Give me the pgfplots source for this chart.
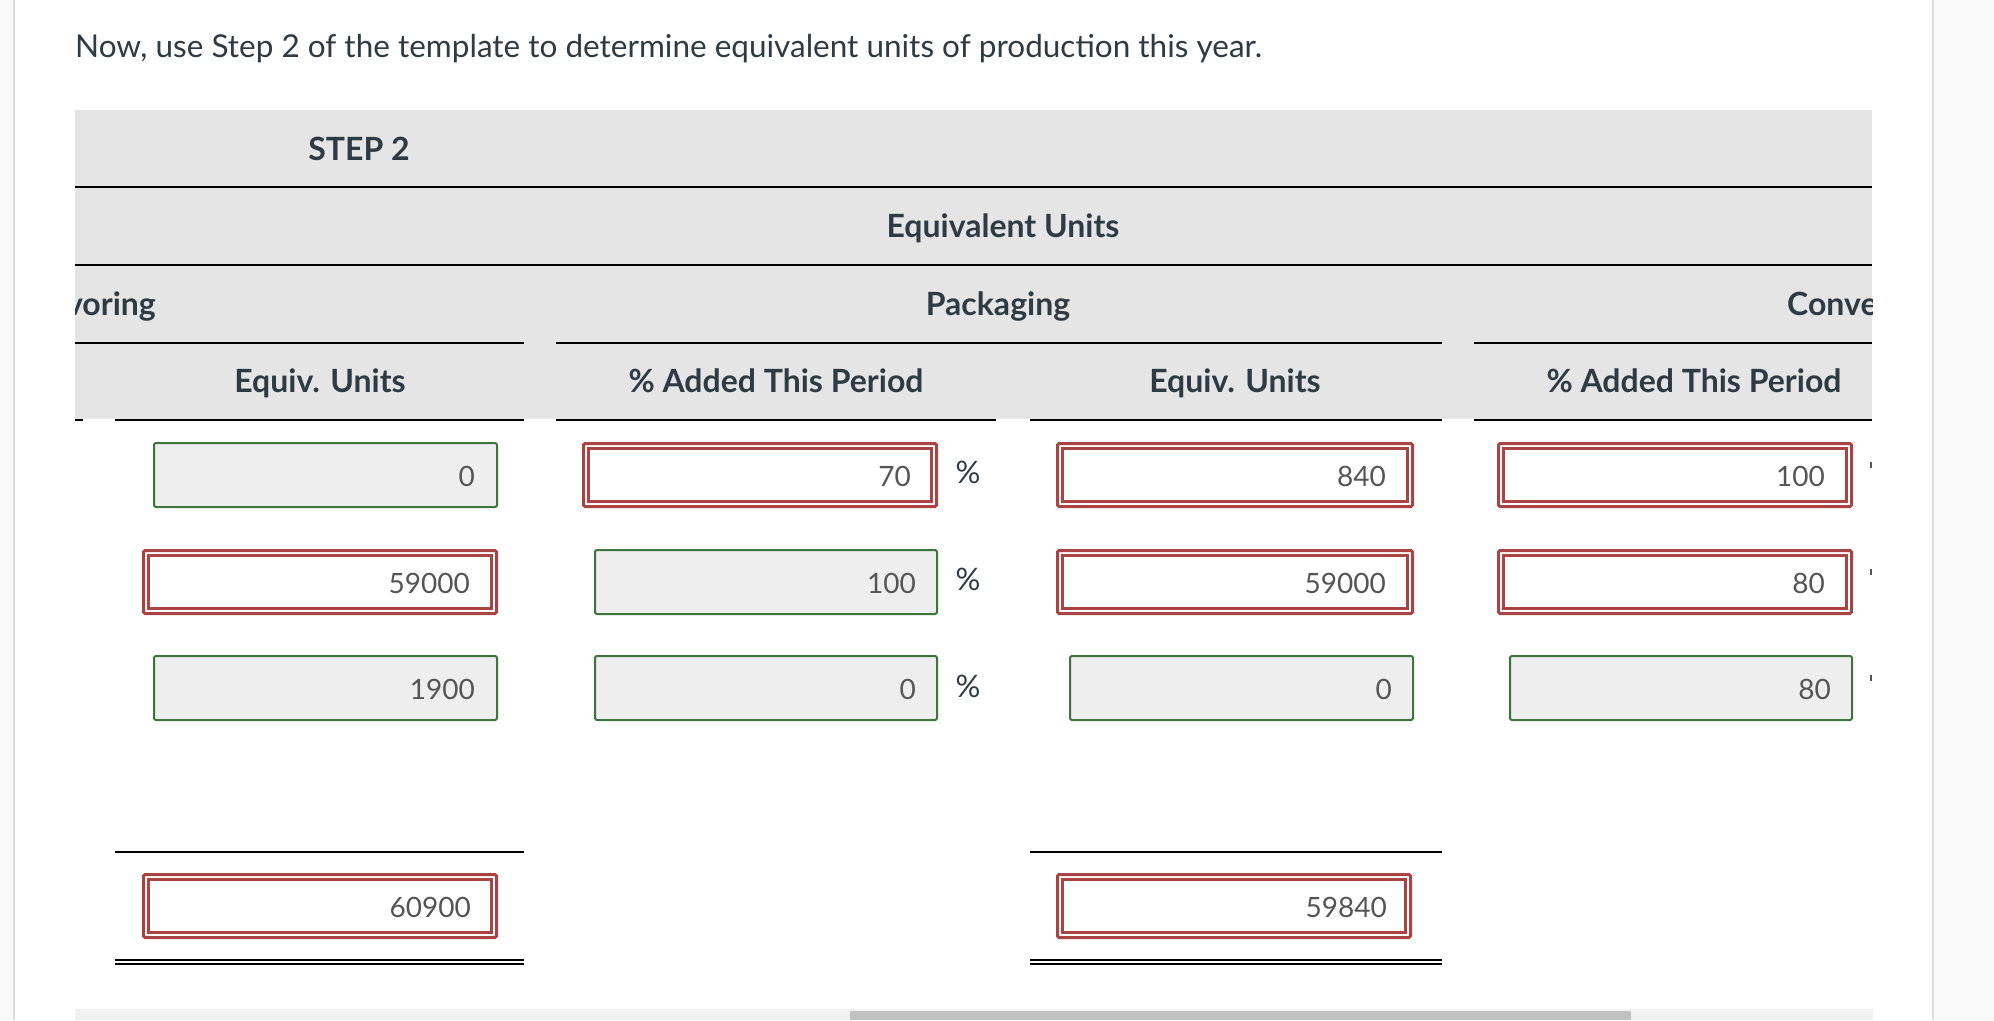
\documentclass[border=0pt]{standalone}
\usepackage{fontspec}
\setmainfont{Lato}
\usepackage{pgfplots}
\pgfplotsset{compat=1.18}
\usepackage{pgfplotstable}
\definecolor{hdr}{HTML}{E5E5E5}
\definecolor{ink}{HTML}{2D3B45}
\definecolor{numc}{HTML}{555555}
\definecolor{gbord}{HTML}{3C763D}
\definecolor{rbord}{HTML}{A94442}
\definecolor{gfill}{HTML}{EEEEEE}
\definecolor{panel}{HTML}{F9F9F9}
\definecolor{pborder}{HTML}{DDDDDD}
\definecolor{track}{HTML}{F1F1F1}
\definecolor{thumb}{HTML}{C1C1C1}
\newcommand{\titlefont}{\fontsize{31.5bp}{38bp}\selectfont}
\newcommand{\hfont}{\fontsize{32bp}{38bp}\selectfont\bfseries}
\newcommand{\nfont}{\fontsize{28bp}{33bp}\selectfont}
\newcommand{\gbox}[4]{\draw[gbord, line width=2bp, fill=gfill, rounded corners=2bp] (axis cs:{#1+1},{#2+1}) rectangle (axis cs:{#3-1},{#4-1});}
\newcommand{\rbox}[4]{\fill[white] (axis cs:#1,#2) rectangle (axis cs:#3,#4);
  \draw[rbord, line width=3bp, rounded corners=1.5bp] (axis cs:{#1+1.5},{#2+1.5}) rectangle (axis cs:{#3-1.5},{#4-1.5});
  \draw[rbord, line width=3bp] (axis cs:{#1+6.5},{#2+6.5}) rectangle (axis cs:{#3-6.5},{#4-6.5});}
\newcommand{\hseg}[3]{\draw[black, line width=2bp] (axis cs:#1,#3) -- (axis cs:#2,#3);}
\pgfplotstableread{
x y label
475 486 0
911 486 70
1386 486 840
1825 486 100
470 593 59000
916 593 100
1386 593 59000
1825 593 80
475 699 1900
916 699 0
1392 699 0
1831 699 80
471 917 60900
1387 917 59840
}\values
\begin{document}
\begin{tikzpicture}
\begin{axis}[width=1994bp, height=1020bp, scale only axis,
  xmin=0, xmax=1994, ymin=0, ymax=1020, y dir=reverse,
  hide axis, clip=false]
% page background and side panels
\fill[white] (axis cs:0,0) rectangle (axis cs:1994,1020);
\fill[panel] (axis cs:0,0) rectangle (axis cs:12.7,1020);
\fill[pborder] (axis cs:12.7,0) rectangle (axis cs:14.7,1020);
\fill[panel] (axis cs:1934,0) rectangle (axis cs:1994,1020);
\fill[pborder] (axis cs:1932,0) rectangle (axis cs:1934,1020);
% title
\node[anchor=base west, inner sep=0pt, text=ink, font=\titlefont] at (axis cs:75,57) {Now, use Step 2 of the template to determine equivalent units of production this year.};
% header band
\fill[hdr] (axis cs:75,110) rectangle (axis cs:1872,419);
\hseg{75}{1872}{187}
\hseg{75}{1872}{265}
\hseg{75}{524}{343}
\hseg{556}{1442}{343}
\hseg{1474}{1872}{343}
\fill[white] (axis cs:83,419) rectangle (axis cs:115,421);
\fill[white] (axis cs:524,419) rectangle (axis cs:556,421);
\fill[white] (axis cs:996,419) rectangle (axis cs:1030,421);
\fill[white] (axis cs:1442,419) rectangle (axis cs:1474,421);
\hseg{75}{83}{420}
\hseg{115}{524}{420}
\hseg{556}{996}{420}
\hseg{1030}{1442}{420}
\hseg{1474}{1872}{420}
\begin{scope}
\clip (axis cs:75,110) rectangle (axis cs:1872,419);
\node[anchor=base, inner sep=0pt, text=ink, font=\hfont] at (axis cs:359,160) {STEP 2};
\node[anchor=base, inner sep=0pt, text=ink, font=\hfont] at (axis cs:1003,237) {Equivalent Units};
\node[anchor=base east, inner sep=0pt, text=ink, font=\hfont] at (axis cs:156,315) {Flavoring};
\node[anchor=base, inner sep=0pt, text=ink, font=\hfont] at (axis cs:998,315) {Packaging};
\node[anchor=base west, inner sep=0pt, text=ink, font=\hfont] at (axis cs:1787,315) {Conversion};
\node[anchor=base, inner sep=0pt, text=ink, font=\hfont] at (axis cs:320,392) {Equiv. Units};
\node[anchor=base, inner sep=0pt, text=ink, font=\hfont] at (axis cs:776,392) {\% Added This Period};
\node[anchor=base, inner sep=0pt, text=ink, font=\hfont] at (axis cs:1235,392) {Equiv. Units};
\node[anchor=base, inner sep=0pt, text=ink, font=\hfont] at (axis cs:1694,392) {\% Added This Period};
\end{scope}
% row 1
\gbox{153}{442}{498}{508}
\rbox{582}{442}{938}{508}
\rbox{1056}{442}{1414}{508}
\rbox{1497}{442}{1853}{508}
% row 2
\rbox{142}{549}{498}{615}
\gbox{594}{549}{938}{615}
\rbox{1056}{549}{1414}{615}
\rbox{1497}{549}{1853}{615}
% row 3
\gbox{153}{655}{498}{721}
\gbox{594}{655}{938}{721}
\gbox{1069}{655}{1414}{721}
\gbox{1509}{655}{1853}{721}
% percent signs
\node[anchor=base, inner sep=0pt, text=ink, font=\fontsize{31bp}{36bp}\selectfont] at (axis cs:968,483) {\%};
\node[anchor=base, inner sep=0pt, text=ink, font=\fontsize{31bp}{36bp}\selectfont] at (axis cs:968,590) {\%};
\node[anchor=base, inner sep=0pt, text=ink, font=\fontsize{31bp}{36bp}\selectfont] at (axis cs:968,697) {\%};
\draw[numc, line width=1.5bp] (axis cs:1871,462) -- (axis cs:1871,468);
\draw[numc, line width=1.5bp] (axis cs:1871,569) -- (axis cs:1871,575);
\draw[numc, line width=1.5bp] (axis cs:1871,675) -- (axis cs:1871,681);
% totals
\hseg{115}{524}{852}
\hseg{1030}{1442}{852}
\rbox{142}{873}{498}{939}
\rbox{1056}{873}{1412}{939}
\hseg{115}{524}{960}
\hseg{115}{524}{964}
\hseg{1030}{1442}{960}
\hseg{1030}{1442}{964}
% scroll bar
\fill[track] (axis cs:75,1009) rectangle (axis cs:1873,1020);
\fill[thumb] (axis cs:850,1011) rectangle (axis cs:1631,1020);
% values
\addplot[only marks, mark=none, nodes near coords, point meta=explicit symbolic,
  nodes near coords style={anchor=base east, inner sep=0pt, text=numc, font=\nfont}]
  table[x=x, y=y, meta=label] {\values};
\end{axis}
\end{tikzpicture}
\end{document}
